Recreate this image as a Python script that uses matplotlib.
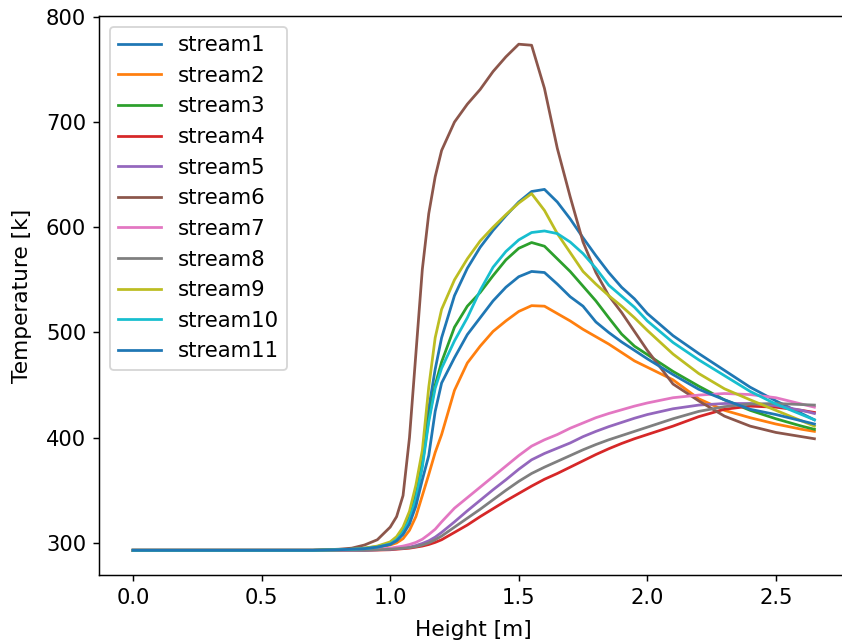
import matplotlib
matplotlib.use("Agg")
import matplotlib.pyplot as plt

# height along the reactor [m]
height = [0.0, 0.4, 0.7, 0.8, 0.85, 0.9, 0.95, 1.0, 1.025, 1.05, 1.075, 1.1,
          1.125, 1.15, 1.175, 1.2, 1.25, 1.3, 1.35, 1.4, 1.45, 1.5, 1.55, 1.6,
          1.65, 1.7, 1.75, 1.8, 1.85, 1.9, 1.95, 2.0, 2.1, 2.2, 2.3, 2.4, 2.5,
          2.6, 2.65]

# temperature profiles [K]
stream1 = [293, 293, 293, 293.5, 294, 295, 296.5, 300, 304, 312, 325, 348,
           380, 428, 465, 495, 535, 561, 581, 597, 611, 624, 634, 636,
           624, 608, 590, 573, 557, 543, 532, 518, 497, 480, 464, 448, 435,
           423, 417]
stream2 = [293, 293, 293, 293.5, 294, 294.5, 295.5, 298, 300, 304, 312, 325,
           345, 365, 386, 403, 445, 471, 487, 501, 511, 520, 525.5, 525,
           518, 511, 503, 496, 489, 481, 473, 467, 455, 437, 426, 419, 413,
           408, 406]
stream3 = [293, 293, 293, 293.5, 294, 294.5, 296, 299, 303, 310, 322, 343,
           375, 418, 450, 472, 505, 525, 538, 554, 569, 580, 585.5, 582,
           570, 558, 544, 530, 514, 498.5, 487, 479, 463, 449, 436, 426, 418,
           411, 408]
stream4 = [293, 293, 293, 293, 293, 293, 293.2, 293.5, 294, 294.5, 295, 296,
           297, 298.5, 300.5, 303, 310, 317, 325, 332.5, 340, 347, 354, 360.5,
           366, 372, 378, 384, 389.5, 394.5, 399, 403, 411, 420, 427, 430, 429,
           426, 424]
stream5 = [293, 293, 293, 293, 293, 293, 293.5, 294, 294.5, 295, 296, 297.5,
           299.5, 302, 305.5, 310, 320, 330.5, 340.5, 350.5, 360, 370, 379, 385,
           390, 395, 401, 406, 410.5, 414.5, 418.5, 422, 427.5, 431, 432.5,
           432.5, 430.5, 426, 423]
stream6 = [293, 293, 293, 294, 295, 298, 303, 315, 325, 345, 400, 480,
           560, 613, 648, 673, 700, 717, 731, 748, 762, 774, 773, 732,
           675, 629, 586, 557, 535, 519, 501, 483, 451, 435, 420.5, 411, 405,
           401, 399]
stream7 = [293, 293, 293, 293, 293, 293.5, 294, 295, 296, 297, 298.5, 300.5,
           303.5, 308, 313, 320, 333, 343, 353, 363, 373, 383, 392, 398,
           403, 409, 414, 419, 423, 426.5, 430, 433, 438, 440.5, 442, 441, 438,
           432, 429]
stream8 = [293, 293, 293, 293, 293, 293, 293.5, 294, 294.5, 295, 295.5, 296.5,
           298, 300, 303, 306.5, 315, 323.5, 332, 341, 350, 358.5, 366, 372,
           377.5, 383, 388.5, 393.5, 398, 402, 406, 410, 418, 425, 429.5, 432,
           432.5, 431.5, 431]
stream9 = [293, 293, 293, 293.5, 294, 295, 297, 301, 306, 315, 330, 355,
           388, 448, 495, 522, 550, 570, 587, 600, 612, 623, 632, 616,
           594, 576, 558, 546, 535, 525, 514, 502, 479.5, 461, 446.5, 436, 426,
           416, 411]
stream10 = [293, 293, 293, 293.5, 294, 294.5, 296, 299, 303, 310, 322, 342,
            372, 415, 447, 466, 492, 514, 540, 562, 577, 588, 595, 596.5,
            594, 586, 575, 561, 545, 534.5, 524, 511, 490.5, 474, 459, 444, 432,
            422, 417]
stream11 = [293, 293, 293, 293.5, 294, 294.5, 296, 298.5, 302, 308, 318, 335,
            360, 383, 425, 452, 476, 498, 514, 530, 543, 553, 558, 557,
            546, 534, 525, 510, 500, 491, 483, 475, 460, 446, 436, 427, 422,
            416, 413]

streams = [stream1, stream2, stream3, stream4, stream5, stream6, stream7,
           stream8, stream9, stream10, stream11]
labels = ['stream%d' % (i + 1) for i in range(len(streams))]

plt.rcParams['xtick.labelsize'] = 11.5
plt.rcParams['ytick.labelsize'] = 11.5
plt.rcParams['axes.labelsize'] = 11.8

fig = plt.figure(figsize=(842 / 132, 643 / 132), dpi=132)
ax = fig.add_axes([99 / 842, 68 / 643, 749.5 / 842, 559 / 643])

for temps, name in zip(streams, labels):
    ax.plot(height, temps, label=name)

ax.set_xlim(-0.1325, 2.7825)
ax.set_ylim(269.5, 800.8)
ax.set_xlabel('Height [m]', labelpad=6.5)
ax.set_ylabel('Temperature [k]', labelpad=7.5)
ax.legend(loc='upper left', fontsize=11.6)

fig.savefig('out.png', dpi=132)
